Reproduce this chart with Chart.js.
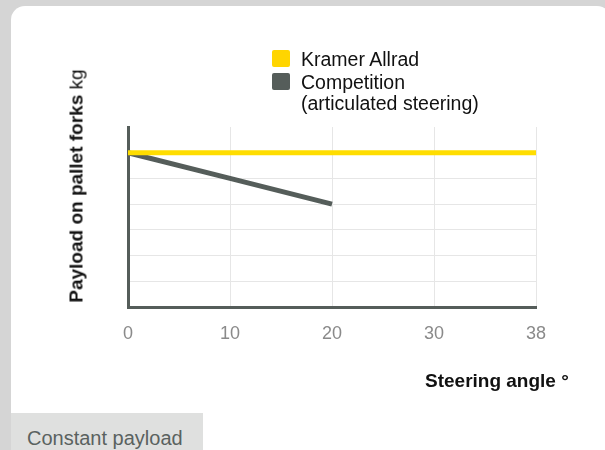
<!DOCTYPE html>
<html lang="en">
<head>
    <meta charset="UTF-8">
    <title>Payload vs steering angle</title>
    <script src="https://cdn.jsdelivr.net/npm/chart.js"></script>
    <style>
        html, body {
            margin: 0;
            padding: 0;
            width: 605px;
            height: 450px;
            overflow: hidden;
            background-color: #d5d5d5;
            font-family: "Liberation Sans", Arial, sans-serif;
        }

        .card {
            position: absolute;
            left: 11px;
            top: 6px;
            width: 600px;
            height: 470px;
            background-color: #ffffff;
            border-radius: 14px;
        }

        #chart {
            position: absolute;
            left: 0;
            top: 0;
        }

        .legend {
            position: absolute;
            left: 272px;
            top: 49px;
            font-size: 19.5px;
            color: #111111;
            line-height: 21px;
        }

        .legend .item {
            position: relative;
            padding-left: 29px;
            margin-bottom: 2px;
        }

        .legend .box {
            position: absolute;
            left: 0;
            top: 1px;
            width: 18px;
            height: 17px;
            border-radius: 2px;
        }

        .y-title {
            position: absolute;
            left: 76px;
            top: 186px;
            transform: translate(-50%, -50%) rotate(-90deg);
            white-space: nowrap;
            font-size: 19px;
            line-height: 19px;
            color: #111111;
        }

        .x-title {
            position: absolute;
            left: 425px;
            top: 371px;
            font-size: 19px;
            line-height: 19px;
            font-weight: bold;
            color: #111111;
        }

        /* onglet en bas */
        .tab {
            position: absolute;
            left: 11px;
            top: 413px;
            width: 192px;
            height: 40px;
            background-color: #dfe0df;
            color: #5a625f;
            font-size: 20px;
            line-height: 20px;
            box-sizing: border-box;
            padding: 15px 0 0 16px;
        }
    </style>
</head>
<body>
    <div class="card"></div>
    <canvas id="chart" width="605" height="450"></canvas>

    <div class="legend">
        <div class="item"><span class="box" style="background:#ffd500"></span>Kramer Allrad</div>
        <div class="item"><span class="box" style="background:#555d5a"></span>Competition<br>(articulated steering)</div>
    </div>

    <div class="y-title"><b>Payload on pallet forks</b> kg</div>
    <div class="x-title">Steering angle °</div>
    <div class="tab">Constant payload</div>

    <script>
        // steering angle labels (evenly spaced in the original)
        const angles = ['0', '10', '20', '30', '38'];
        const kramer = [6, 6, 6, 6, 6];
        const competition = [6, 5, 4, null, null];

        const axisColor = '#555d5a';
        const gridColor = '#e6e6e6';

        new Chart(document.getElementById('chart'), {
            type: 'line',
            data: {
                labels: angles,
                datasets: [{
                    label: 'Kramer Allrad',
                    data: kramer,
                    borderColor: '#ffdd00',
                    borderWidth: 5,
                    pointRadius: 0,
                    tension: 0
                }, {
                    label: 'Competition (articulated steering)',
                    data: competition,
                    borderColor: axisColor,
                    borderWidth: 5,
                    pointRadius: 0,
                    tension: 0
                }]
            },
            options: {
                responsive: false,
                animation: false,
                layout: {
                    padding: { left: 128, top: 127, right: 69, bottom: 103 }
                },
                plugins: {
                    legend: { display: false },
                    tooltip: { enabled: false }
                },
                scales: {
                    x: {
                        grid: { color: gridColor, lineWidth: 1, drawTicks: false },
                        border: { color: axisColor, width: 3 },
                        ticks: {
                            color: '#8a8a8a',
                            padding: 16,
                            font: { family: 'Liberation Sans', size: 18 }
                        },
                        afterFit: function (scale) { scale.height = 40; }
                    },
                    y: {
                        min: 0,
                        max: 7,
                        ticks: { display: false, stepSize: 1 },
                        grid: {
                            drawTicks: false,
                            lineWidth: 1,
                            color: function (ctx) {
                                const v = ctx.tick ? ctx.tick.value : 0;
                                return (v === 0 || v === 7) ? 'rgba(0,0,0,0)' : gridColor;
                            }
                        },
                        border: { color: axisColor, width: 3 },
                        afterFit: function (scale) { scale.width = 0; }
                    }
                }
            }
        });
    </script>
</body>
</html>
